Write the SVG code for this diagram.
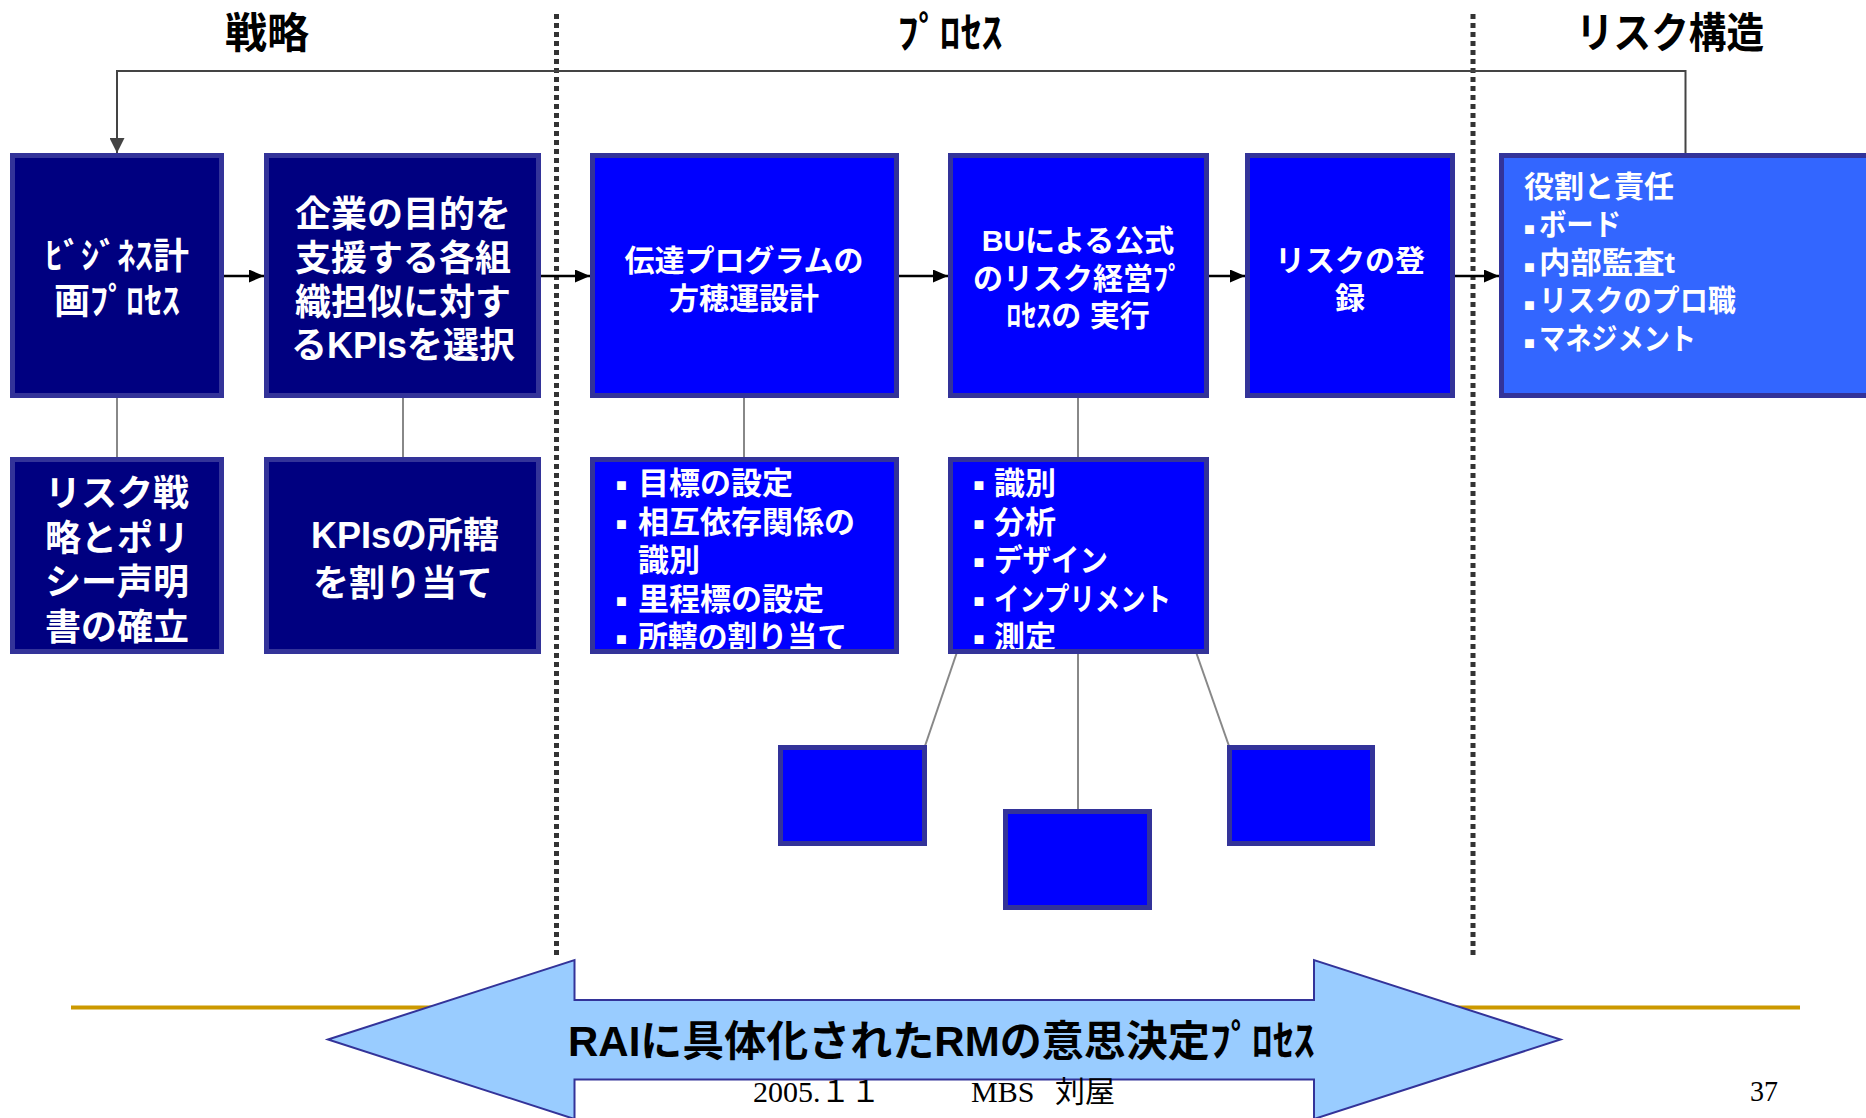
<svg xmlns="http://www.w3.org/2000/svg" width="1866" height="1118" viewBox="0 0 1866 1118">
<defs>
<style>
.nav{fill:#000080;stroke:#333399;stroke-width:5}
.blu{fill:#0000FF;stroke:#333399;stroke-width:5}
.lbl{fill:#3366FF;stroke:#333399;stroke-width:5}
.f{font-family:"Liberation Sans","Noto Sans CJK JP",sans-serif;font-weight:bold}
.w{fill:#fff}
.c{text-anchor:middle}
.s36{font-size:36px}
.s31{font-size:31px}
.s30{font-size:30px}
.hd{font-size:42px;fill:#000;text-anchor:middle}
.bul{font-family:"Liberation Sans",sans-serif;font-size:18px;fill:#fff}
.conn{stroke:#888;stroke-width:2;fill:none}
.flow{stroke:#000;stroke-width:2.5;fill:none;marker-end:url(#ah)}
.fb{stroke:#444;stroke-width:2;fill:none;marker-end:url(#ah2)}
.div{stroke:#333;stroke-width:5;stroke-dasharray:5 4;fill:none}
.foot{font-family:"Liberation Serif","Noto Sans CJK JP",serif;font-size:30px;fill:#000}
</style>
<marker id="ah" markerUnits="userSpaceOnUse" markerWidth="15" markerHeight="13" refX="15" refY="6.5" orient="auto">
<path d="M0,0 L15,6.5 L0,13 Z" fill="#000"/>
</marker>
<marker id="ah2" markerUnits="userSpaceOnUse" markerWidth="15" markerHeight="15" refX="15" refY="7.5" orient="auto">
<path d="M0,0 L15,7.5 L0,15 Z" fill="#444"/>
</marker>
<clipPath id="clip3b"><rect x="595" y="462" width="299" height="187"/></clipPath>
<clipPath id="clip4b"><rect x="953" y="462" width="251" height="187"/></clipPath>
</defs>
<rect width="1866" height="1118" fill="#fff"/>

<g id="dividers">
<line class="div" x1="556.5" y1="14" x2="556.5" y2="957"/>
<line class="div" x1="1473" y1="14" x2="1473" y2="957"/>
</g>

<g id="headings" class="f">
<text class="hd" x="267" y="48">戦略</text>
<text class="hd" x="950" y="48">ﾌﾟﾛｾｽ</text>
<text class="hd" x="1670" y="48" textLength="188" lengthAdjust="spacingAndGlyphs">リスク構造</text>
</g>

<g id="connectors">
<polyline class="fb" points="1685.5,153 1685.5,71 117,71 117,153"/>
<line class="flow" x1="224" y1="276" x2="264" y2="276"/>
<line class="flow" x1="541" y1="276" x2="590" y2="276"/>
<line class="flow" x1="899" y1="276" x2="948" y2="276"/>
<line class="flow" x1="1209" y1="276" x2="1245" y2="276"/>
<line class="flow" x1="1455" y1="276" x2="1499" y2="276"/>
<line class="conn" x1="117" y1="398" x2="117" y2="457"/>
<line class="conn" x1="403" y1="398" x2="403" y2="457"/>
<line class="conn" x1="744" y1="398" x2="744" y2="457"/>
<line class="conn" x1="1078" y1="398" x2="1078" y2="457"/>
<line class="conn" x1="957" y1="652" x2="925" y2="746"/>
<line class="conn" x1="1078" y1="654" x2="1078" y2="809"/>
<line class="conn" x1="1196" y1="652" x2="1229" y2="746"/>
</g>

<g id="n-business-plan">
<rect class="nav" x="12.5" y="155.5" width="209" height="240"/>
<text class="f w c s36"><tspan x="117" y="269">ﾋﾞｼﾞﾈｽ計</tspan><tspan x="117" y="314">画ﾌﾟﾛｾｽ</tspan></text>
</g>
<g id="n-kpi-select">
<rect class="nav" x="266.5" y="155.5" width="272" height="240"/>
<text class="f w c s36"><tspan x="403" y="227">企業の目的を</tspan><tspan x="403" y="271">支援する各組</tspan><tspan x="403" y="315">織担似に対す</tspan><tspan x="403" y="358">るKPIsを選択</tspan></text>
</g>
<g id="n-program">
<rect class="blu" x="592.5" y="155.5" width="304" height="240"/>
<text class="f w c s30"><tspan x="744" y="271">伝達プログラムの</tspan><tspan x="744" y="309">方穂運設計</tspan></text>
</g>
<g id="n-bu-process">
<rect class="blu" x="950.5" y="155.5" width="256" height="240"/>
<text class="f w c s30"><tspan x="1078" y="250.5">BUによる公式</tspan><tspan x="1078" y="289">のリスク経営ﾌﾟ</tspan><tspan x="1078" y="325.5">ﾛｾｽの 実行</tspan></text>
</g>
<g id="n-register">
<rect class="blu" x="1247.5" y="155.5" width="205" height="240"/>
<text class="f w c s30"><tspan x="1350" y="271">リスクの登</tspan><tspan x="1350" y="309">録</tspan></text>
</g>
<g id="n-roles">
<rect class="lbl" x="1501.5" y="155.5" width="400" height="240"/>
<text class="f w s30" x="1524" y="197">役割と責任</text>
<text class="w"><tspan class="bul" x="1524" y="235">■</tspan><tspan class="f s30" x="1539" y="235" textLength="82" lengthAdjust="spacingAndGlyphs">ボード</tspan></text>
<text class="w"><tspan class="bul" x="1524" y="273">■</tspan><tspan class="f s30" x="1539" y="273" textLength="136" lengthAdjust="spacingAndGlyphs">内部監査t</tspan></text>
<text class="w"><tspan class="bul" x="1524" y="311">■</tspan><tspan class="f s30" x="1539" y="311" textLength="197" lengthAdjust="spacingAndGlyphs">リスクのプロ職</tspan></text>
<text class="w"><tspan class="bul" x="1524" y="349">■</tspan><tspan class="f s30" x="1539" y="349" textLength="157" lengthAdjust="spacingAndGlyphs">マネジメント</tspan></text>
</g>

<g id="n-policy">
<rect class="nav" x="12.5" y="459.5" width="209" height="192"/>
<text class="f w c s36"><tspan x="117" y="506">リスク戦</tspan><tspan x="117" y="550.5">略とポリ</tspan><tspan x="117" y="595">シー声明</tspan><tspan x="117" y="639.5">書の確立</tspan></text>
</g>
<g id="n-kpi-assign">
<rect class="nav" x="266.5" y="459.5" width="272" height="192"/>
<text class="f w c s36"><tspan x="405" y="548">KPIsの所轄</tspan><tspan x="403" y="596">を割り当て</tspan></text>
</g>
<g id="n-goals">
<rect class="blu" x="592.5" y="459.5" width="304" height="192"/>
<g clip-path="url(#clip3b)">
<text class="bul" x="616" y="491">■</text>
<text class="bul" x="616" y="529.5">■</text>
<text class="bul" x="616" y="606.5">■</text>
<text class="bul" x="616" y="645">■</text>
<text class="f w s31"><tspan x="638" y="494">目標の設定</tspan><tspan x="638" y="532.5">相互依存関係の</tspan><tspan x="638" y="571">識別</tspan><tspan x="638" y="609.5">里程標の設定</tspan><tspan x="638" y="648" textLength="209" lengthAdjust="spacingAndGlyphs">所轄の割り当て</tspan></text>
</g>
</g>
<g id="n-steps">
<rect class="blu" x="950.5" y="459.5" width="256" height="192"/>
<g clip-path="url(#clip4b)">
<text class="bul" x="973.5" y="491">■</text>
<text class="bul" x="973.5" y="529.5">■</text>
<text class="bul" x="973.5" y="568">■</text>
<text class="bul" x="973.5" y="606.5">■</text>
<text class="bul" x="973.5" y="645">■</text>
<text class="f w s31"><tspan x="994" y="494">識別</tspan><tspan x="994" y="532.5">分析</tspan><tspan x="994" y="571" textLength="114" lengthAdjust="spacingAndGlyphs">デザイン</tspan><tspan x="994" y="609.5" textLength="177" lengthAdjust="spacingAndGlyphs">インプリメント</tspan><tspan x="994" y="648">測定</tspan></text>
</g>
</g>
<g id="n-sub-left"><rect class="blu" x="780.5" y="747.5" width="144" height="96"/></g>
<g id="n-sub-mid"><rect class="blu" x="1005.5" y="811.5" width="144" height="96"/></g>
<g id="n-sub-right"><rect class="blu" x="1229.5" y="747.5" width="143" height="96"/></g>

<g id="footer-rule">
<line x1="71" y1="1007.5" x2="1800" y2="1007.5" stroke="#CC9900" stroke-width="4"/>
</g>
<g id="n-banner">
<polygon points="328,1039.5 574.5,960 574.5,1000 1314,1000 1314,960 1560.5,1039.5 1314,1119 1314,1079.5 574.5,1079.5 574.5,1119" fill="#99CCFF" stroke="#333399" stroke-width="2"/>
<text class="f" x="568" y="1056" font-size="42" fill="#000">RAIに具体化されたRMの意思決定ﾌﾟﾛｾｽ</text>
</g>
<g id="footer">
<text class="foot" y="1101.5"><tspan x="753">2005.１１ </tspan><tspan x="971">MBS </tspan><tspan x="1055">刘屋</tspan></text>
<text class="foot" x="1750" y="1100.5" font-size="34" textLength="28" lengthAdjust="spacingAndGlyphs">37</text>
</g>
</svg>
